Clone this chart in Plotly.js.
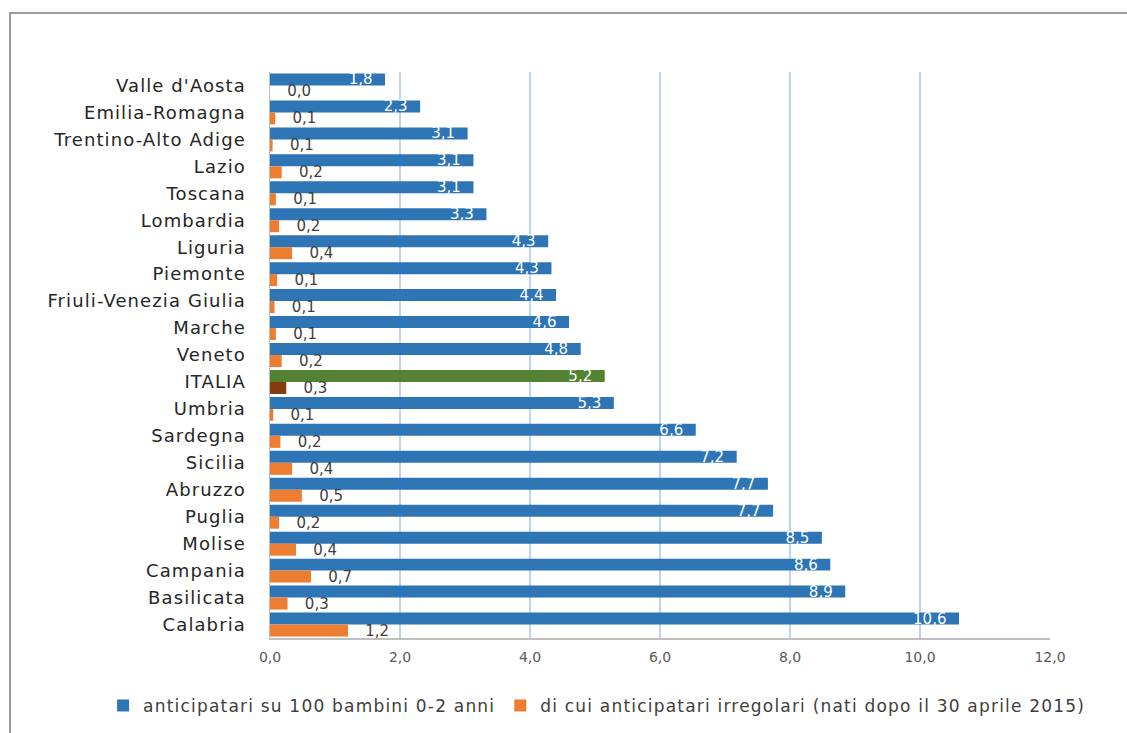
<!DOCTYPE html>
<html>
<head>
<meta charset="utf-8">
<script src="https://cdn.plot.ly/plotly-3.0.1.min.js"></script>
<style>
  html, body { margin: 0; padding: 0; background: #fff; }
  #wrap { position: relative; width: 1127px; height: 733px; overflow: hidden; }
  #frame { position: absolute; left: 9px; top: 12px; width: 1200px; height: 800px;
           border-top: 2px solid #9a9a9a; border-left: 2px solid #9a9a9a; pointer-events: none; }
  #chart { position: absolute; left: 0; top: 0; width: 1127px; height: 733px; }
  text.legendtext { letter-spacing: 1.2px; }
  .ytick text { letter-spacing: 1.1px; }
</style>
</head>
<body>
<div id="wrap">
  <div id="chart"></div>
  <div id="frame"></div>
</div>
<script>
// ---- data (top to bottom) ----
const regions = ["Valle d'Aosta", "Emilia-Romagna", "Trentino-Alto Adige", "Lazio", "Toscana",
  "Lombardia", "Liguria", "Piemonte", "Friuli-Venezia Giulia", "Marche", "Veneto", "ITALIA",
  "Umbria", "Sardegna", "Sicilia", "Abruzzo", "Puglia", "Molise", "Campania", "Basilicata", "Calabria"];

const anticipatari = [1.77, 2.31, 3.04, 3.13, 3.13, 3.33, 4.28, 4.33, 4.40, 4.60, 4.78, 5.15,
  5.29, 6.55, 7.18, 7.66, 7.74, 8.49, 8.62, 8.85, 10.60];
const anticipatariLabels = ["1,8", "2,3", "3,1", "3,1", "3,1", "3,3", "4,3", "4,3", "4,4", "4,6", "4,8", "5,2",
  "5,3", "6,6", "7,2", "7,7", "7,7", "8,5", "8,6", "8,9", "10,6"];

const irregolari = [0.0, 0.08, 0.04, 0.18, 0.09, 0.14, 0.34, 0.11, 0.07, 0.09, 0.18, 0.25,
  0.05, 0.16, 0.34, 0.49, 0.14, 0.40, 0.63, 0.27, 1.20];
const irregolariLabels = ["0,0", "0,1", "0,1", "0,2", "0,1", "0,2", "0,4", "0,1", "0,1", "0,1", "0,2", "0,3",
  "0,1", "0,2", "0,4", "0,5", "0,2", "0,4", "0,7", "0,3", "1,2"];

const xTickVals = [0, 2, 4, 6, 8, 10, 12];
const xTickText = ["0,0", "2,0", "4,0", "6,0", "8,0", "10,0", "12,0"];

const seriesNames = ["anticipatari su 100 bambini 0-2 anni",
  "di cui anticipatari irregolari (nati dopo il 30 aprile 2015)"];

// ---- styles ----
const BLUE = "#2E75B6", ORANGE = "#ED7D31", GREEN = "#548235", BROWN = "#843C0C";
const FONT = "DejaVu Sans, Verdana, sans-serif";
const padOut = "\u00a0\u00a0\u00a0";
const padIn = "\u00a0\u00a0";

const blueColors = regions.map(r => r === "ITALIA" ? GREEN : BLUE);
const orangeColors = regions.map(r => r === "ITALIA" ? BROWN : ORANGE);

const traces = [
  {
    type: "bar", orientation: "h", name: seriesNames[0],
    y: regions, x: anticipatari,
    marker: { color: blueColors, line: { width: 0 } },
    text: anticipatariLabels.map(t => t + padIn), textposition: "inside", insidetextanchor: "end",
    textangle: 0, constraintext: "none",
    insidetextfont: { family: FONT, size: 15, color: "#ffffff" },
    hoverinfo: "skip"
  },
  {
    type: "bar", orientation: "h", name: seriesNames[1],
    y: regions, x: irregolari,
    marker: { color: orangeColors, line: { width: 0 } },
    text: irregolariLabels.map(t => padOut + t), textposition: "outside",
    textangle: 0, constraintext: "none", cliponaxis: false,
    outsidetextfont: { family: FONT, size: 15, color: "#404040" },
    hoverinfo: "skip"
  }
];

const layout = {
  width: 1127, height: 733,
  margin: { l: 270, r: 77, t: 72, b: 95, autoexpand: false },
  paper_bgcolor: "rgba(0,0,0,0)", plot_bgcolor: "#ffffff",
  barmode: "group", bargap: 0.11, bargroupgap: 0,
  font: { family: FONT, color: "#404040" },
  showlegend: true,
  legend: {
    orientation: "h", x: -0.214, xanchor: "left",
    y: -0.12, yanchor: "middle",
    font: { family: FONT, size: 17, color: "#404040" },
    traceorder: "normal", itemwidth: 30
  },
  xaxis: {
    range: [0, 12], tickvals: xTickVals, ticktext: xTickText,
    showgrid: true, gridcolor: "#BCD5F3", gridwidth: 1.5,
    zeroline: false, showline: true, linecolor: "#BFBFBF", linewidth: 1.5,
    ticks: "", tickfont: { family: FONT, size: 14, color: "#595959" },
    ticklabelstandoff: 6, fixedrange: true
  },
  yaxis: {
    type: "category", autorange: "reversed",
    showgrid: false, zeroline: false, showline: true, linecolor: "#BFBFBF", linewidth: 1.5,
    ticks: "", ticklabelstandoff: 19,
    tickfont: { family: FONT, size: 18, color: "#262626" }, fixedrange: true
  }
};

Plotly.newPlot("chart", traces, layout, { displayModeBar: false, staticPlot: true });
</script>
</body>
</html>
